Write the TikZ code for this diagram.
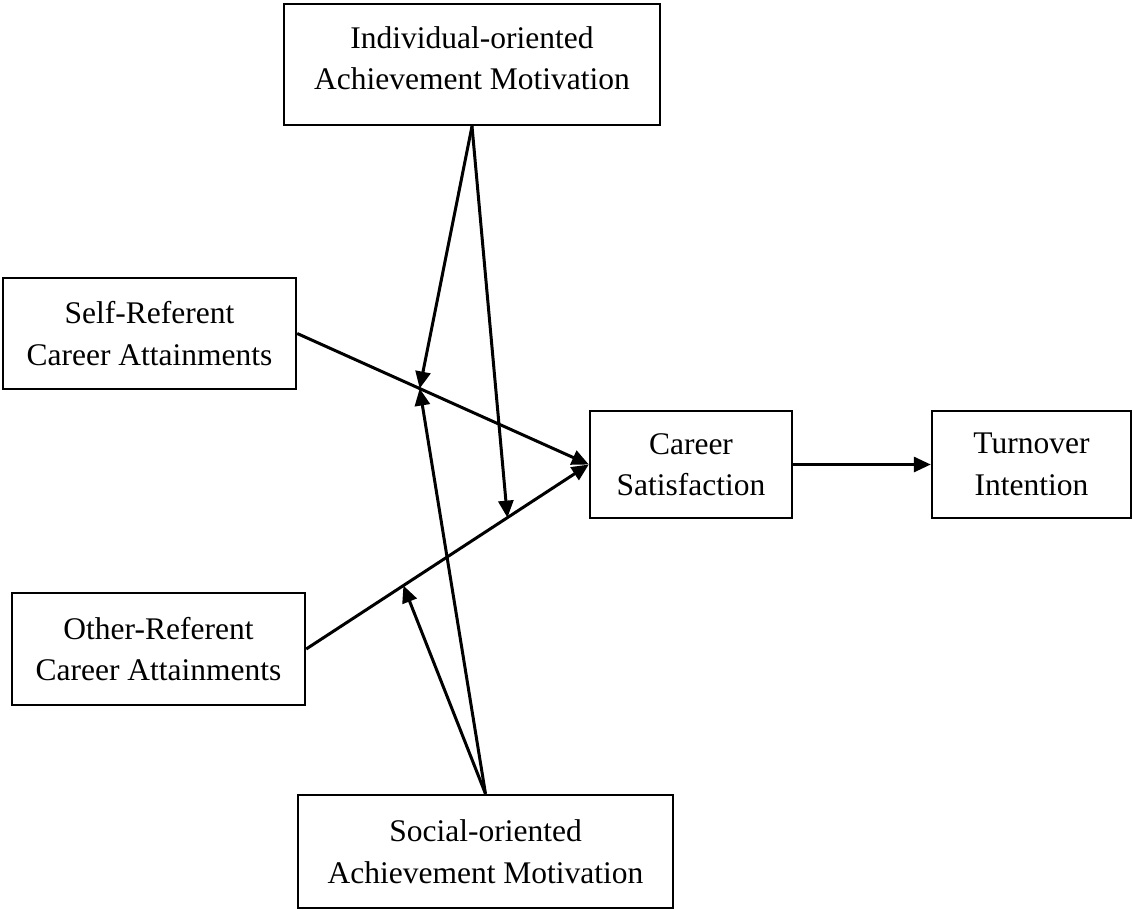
\documentclass[tikz,border=0pt]{standalone}
\usepackage{fontspec}
\setmainfont{Liberation Serif}
\usetikzlibrary{arrows.meta}
\begin{document}
\begin{tikzpicture}[x=1pt,y=-1pt,
  box/.style={draw,line width=2.4pt,rectangle,align=center,inner sep=0pt,
    font=\fontsize{31.5}{41.5}\selectfont},
  link/.style={line width=3pt,-{Triangle[length=17pt,width=15pt]}}]
\useasboundingbox (0,0) rectangle (1133,910);
\node[box,minimum width=376pt,minimum height=121pt] (ind) at (472,64.5) {Individual-oriented\\Achievement Motivation\\[-29pt]};
\node[box,minimum width=293pt,minimum height=111pt] (self) at (149.5,333.5) {Self-Referent\\Career Attainments};
\node[box,minimum width=293pt,minimum height=112pt] (other) at (158.5,649) {Other-Referent\\Career Attainments};
\node[box,minimum width=375pt,minimum height=113pt] (soc) at (485.5,851.5) {Social-oriented\\Achievement Motivation};
\node[box,minimum width=202pt,minimum height=107pt] (cs) at (691,464.5) {Career\\Satisfaction};
\node[box,minimum width=199pt,minimum height=107pt] (to) at (1031.5,464.5) {Turnover\\Intention};
\path (self.east) -- coordinate[pos=0.42] (m1) (cs.west);
\path (other.east) -- coordinate[pos=0.712] (m2) coordinate[pos=0.344] (m3) (cs.west);
\draw[link] (self.east) -- (cs.west);
\draw[link] (other.east) -- (cs.west);
\draw[link] (cs.east) -- (to.west);
\draw[link] (ind.south) -- (m1);
\draw[link] (ind.south) -- (m2);
\draw[link] (soc.north) -- (m1);
\draw[link] (soc.north) -- (m3);
\end{tikzpicture}
\end{document}
